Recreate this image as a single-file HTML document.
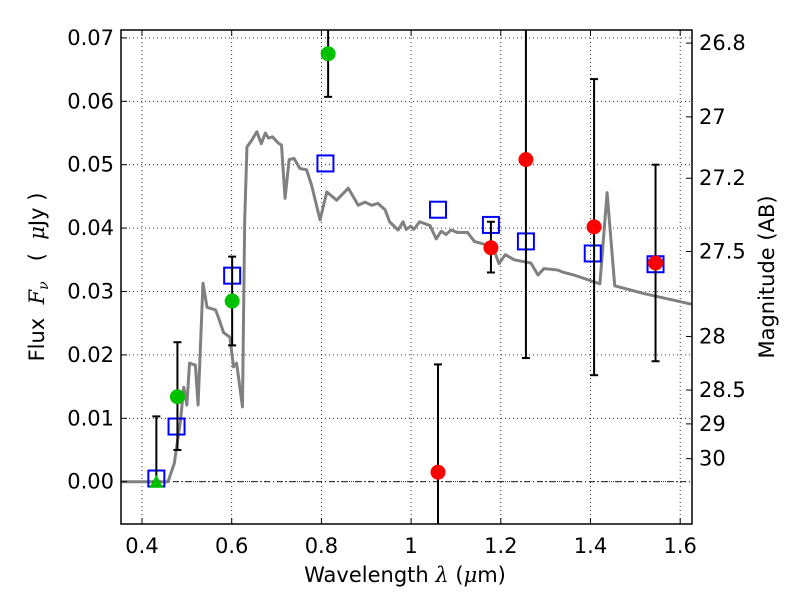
<!DOCTYPE html>
<html><head><meta charset="utf-8"><style>
body{margin:0;background:#fff}
svg{display:block;font-family:"DejaVu Sans","Liberation Sans",sans-serif}
</style></head><body>
<svg id="chart" width="800" height="600" viewBox="0 0 800 600">
<rect width="800" height="600" fill="#fff"/>
<g id="grid"></g>
<g id="spec"></g>
<g id="marks"></g>
<rect x="121" y="30" width="571" height="494" fill="none" stroke="#000" stroke-width="1.5"/>
<g id="axes"></g>
<text x="405" y="582" font-size="21" text-anchor="middle">Wavelength  <tspan font-family="DejaVu Serif" font-style="italic">λ</tspan> (<tspan font-family="DejaVu Serif" font-style="italic">μ</tspan>m)</text>
<text transform="translate(44,277) rotate(-90)" font-size="21" text-anchor="middle" xml:space="preserve">Flux  <tspan font-family="DejaVu Serif" font-style="italic">F</tspan><tspan font-family="DejaVu Serif" font-style="italic" font-size="14" dy="4">ν</tspan><tspan dy="-4">   (  </tspan><tspan font-family="DejaVu Serif" font-style="italic">μ</tspan>Jy )</text>
<text transform="translate(774,277) rotate(-90)" font-size="21" text-anchor="middle">Magnitude (AB)</text>
</svg>
<script>
const xTicks=[0.4,0.6,0.8,1.0,1.2,1.4,1.6];
const xTickLabels=["0.4","0.6","0.8","1","1.2","1.4","1.6"];
const yTicks=[0,0.01,0.02,0.03,0.04,0.05,0.06,0.07];
const yTickLabels=["0.00","0.01","0.02","0.03","0.04","0.05","0.06","0.07"];
const magTicks=[26.8,27,27.2,27.5,28,28.5,29,30];
const magTickLabels=["26.8","27","27.2","27.5","28","28.5","29","30"];
const specLam=[0.35,0.458,0.472,0.486,0.493,0.5,0.506,0.519,0.525,0.536,0.545,0.564,0.571,0.582,0.596,0.604,0.611,0.624,0.629,0.634,0.645,0.656,0.666,0.675,0.682,0.691,0.704,0.711,0.719,0.728,0.739,0.752,0.767,0.778,0.797,0.812,0.834,0.86,0.882,0.897,0.912,0.926,0.942,0.952,0.971,0.982,0.989,0.999,1.006,1.019,1.042,1.056,1.067,1.078,1.089,1.104,1.126,1.141,1.171,1.185,1.196,1.21,1.23,1.267,1.283,1.296,1.326,1.341,1.363,1.421,1.437,1.454,1.518,1.625];
const specFlux=[0,0,0.0029,0.0097,0.0149,0.0121,0.0187,0.0184,0.0121,0.0313,0.0275,0.0271,0.0258,0.0235,0.0228,0.0181,0.0187,0.0118,0.0413,0.0528,0.0539,0.0552,0.0533,0.055,0.0542,0.0544,0.0534,0.0531,0.0447,0.0508,0.051,0.0494,0.0492,0.0468,0.0413,0.0457,0.0444,0.0463,0.0436,0.0441,0.0436,0.0439,0.0429,0.041,0.0397,0.041,0.0398,0.0403,0.0398,0.041,0.0404,0.0383,0.0395,0.039,0.0397,0.0393,0.0393,0.0379,0.0373,0.0365,0.0344,0.0358,0.035,0.0345,0.0326,0.0336,0.0334,0.033,0.0326,0.0312,0.0456,0.0309,0.0297,0.028];
const sqLam=[0.432,0.477,0.601,0.809,1.06,1.178,1.256,1.405,1.545];
const sqFlux=[0.0005,0.0087,0.0325,0.0502,0.0429,0.0405,0.0379,0.036,0.0343];
const greenLam=[0.479,0.601,0.815];
const greenFlux=[0.0134,0.0285,0.0675];
const greenLo=[0.005,0.0215,0.0607];
const greenHi=[0.022,0.0355,0.08];
const triLam=[0.432];
const triFlux=[0.0];
const triHi=[0.0103];
const redLam=[1.06,1.178,1.256,1.408,1.545];
const redFlux=[0.0015,0.0369,0.0508,0.0402,0.0345];
const redLo=[-0.01,0.033,0.0195,0.0168,0.019];
const redHi=[0.0185,0.041,0.08,0.0635,0.050];

const X=l=>142+(l-0.4)*448.5;
const Y=f=>481.7-f*6340;
const magToFlux=m=>Math.pow(10,(23.9-m)/2.5);
const NS="http://www.w3.org/2000/svg";
function mk(tag,attrs,parent){const e=document.createElementNS(NS,tag);for(const k in attrs)e.setAttribute(k,attrs[k]);parent.appendChild(e);return e;}
const grid=document.getElementById('grid'),axes=document.getElementById('axes'),spec=document.getElementById('spec'),marks=document.getElementById('marks');
const clip=mk('clipPath',{id:'pc'},document.getElementById('chart'));mk('rect',{x:121,y:30,width:571,height:494},clip);
spec.setAttribute('clip-path','url(#pc)');marks.setAttribute('clip-path','url(#pc)');

xTicks.forEach((t,i)=>{const x=X(t);
 const g=mk('line',{x1:x,x2:x,y1:30,y2:524,stroke:'#000','stroke-width':0.8,'stroke-dasharray':'1,3'},grid);
 
 mk('line',{x1:x,x2:x,y1:524,y2:518,stroke:'#000'},axes);mk('line',{x1:x,x2:x,y1:30,y2:36,stroke:'#000'},axes);
 const tx=mk('text',{x:x,y:553,'font-size':21,'text-anchor':'middle'},axes);tx.textContent=xTickLabels[i];
 });
yTicks.forEach((t,i)=>{const y=Y(t);
 const g=mk('line',{x1:121,x2:692,y1:y,y2:y,stroke:'#000','stroke-width':0.8,'stroke-dasharray':'1,3'},grid);
 
 mk('line',{x1:121,x2:127,y1:y,y2:y,stroke:'#000'},axes);
 const tx=mk('text',{x:114,y:y+7,'font-size':21,'text-anchor':'end'},axes);tx.textContent=yTickLabels[i];
 });
magTicks.forEach((m,i)=>{const y=Y(magToFlux(m));
 mk('line',{x1:692,x2:686,y1:y,y2:y,stroke:'#000'},axes);
 const tx=mk('text',{x:699,y:y+7,'font-size':21},axes);tx.textContent=magTickLabels[i];
 });
const zl=mk('line',{x1:121,x2:692,y1:Y(0),y2:Y(0),stroke:'#000','stroke-width':0.8,'stroke-dasharray':'6,3,1,3'},grid);


const pl=mk('polyline',{points:specLam.map((l,i)=>X(l)+','+Y(specFlux[i])).join(' '),fill:'none',stroke:'#808080','stroke-width':3,'stroke-linejoin':'round'},spec);


function err(l,lo,hi){const x=X(l);
 const e=mk('line',{x1:x,x2:x,y1:Y(lo),y2:Y(hi),stroke:'#000','stroke-width':2},marks);
 
 [lo,hi].forEach(v=>mk('line',{x1:x-4,x2:x+4,y1:Y(v),y2:Y(v),stroke:'#000','stroke-width':2},marks));}
sqLam.forEach((l,i)=>{const s=mk('rect',{x:X(l)-8,y:Y(sqFlux[i])-8,width:16,height:16,fill:'none',stroke:'#0000ff','stroke-width':2},marks);
 });
greenLam.forEach((l,i)=>{err(l,greenLo[i],greenHi[i]);
 const c=mk('circle',{cx:X(l),cy:Y(greenFlux[i]),r:7.5,fill:'#00c000'},marks);
 });
triLam.forEach((l,i)=>{err(l,triFlux[i],triHi[i]);const x=X(l),y=Y(triFlux[i]);
 const t=mk('polygon',{points:`${x-7},${y+6} ${x+7},${y+6} ${x},${y-7}`,fill:'#00c000'},marks);
 });
redLam.forEach((l,i)=>{err(l,redLo[i],redHi[i]);
 const c=mk('circle',{cx:X(l),cy:Y(redFlux[i]),r:7.5,fill:'#ff0000'},marks);
 });
</script>
</body></html>
